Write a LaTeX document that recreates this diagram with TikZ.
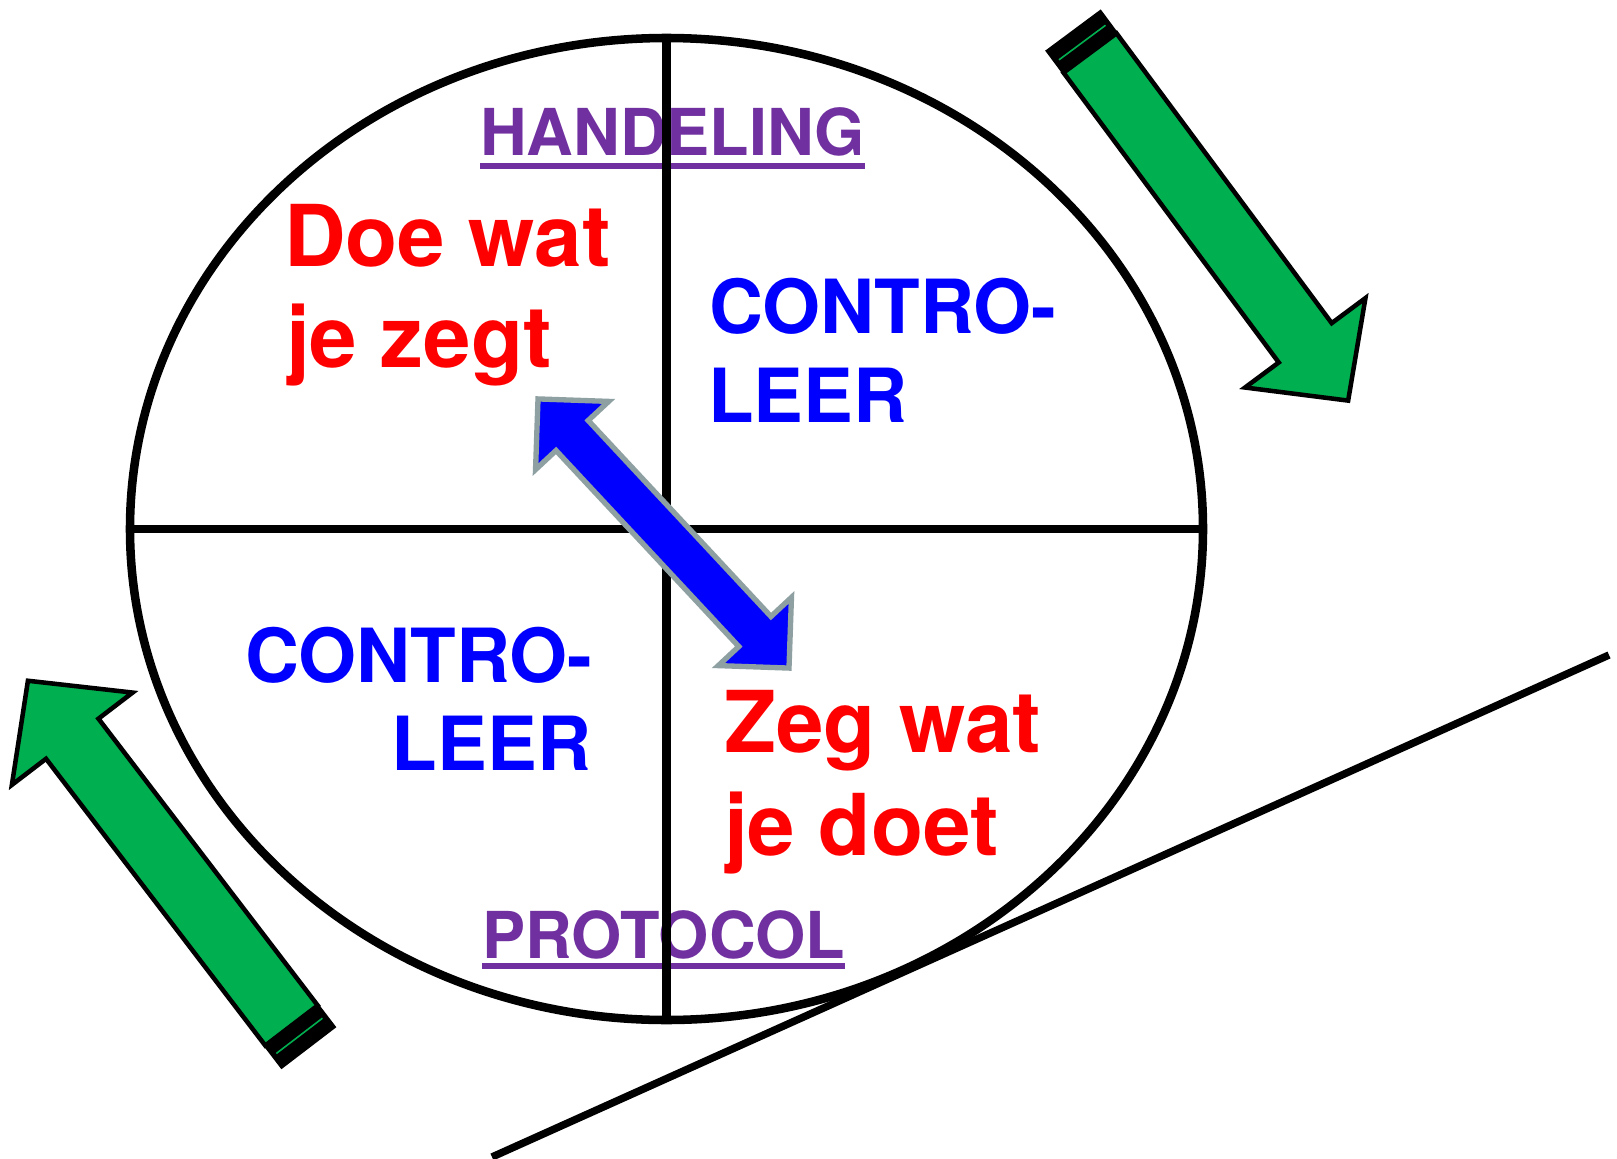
\documentclass[tikz,border=0pt]{standalone}
\usepackage{fontspec}
\setmainfont{TeX Gyre Heros}
\usetikzlibrary{shapes.geometric}
\definecolor{arrgreen}{RGB}{0,176,80}
\definecolor{ttpurple}{RGB}{112,48,160}
\definecolor{arrgray}{RGB}{143,160,162}
\begin{document}
\begin{tikzpicture}[x=0.75pt,y=-0.75pt,
  lbl/.style={inner sep=0pt, outer sep=0pt},
  rtxt/.style={lbl, text=red, font=\bfseries\fontsize{64pt}{76pt}\selectfont},
  btxt/.style={lbl, text=blue, font=\bfseries\fontsize{56pt}{67pt}\selectfont},
  ptxt/.style={lbl, text=ttpurple, font=\bfseries\fontsize{48.5pt}{58pt}\selectfont},
  uline/.style={draw=ttpurple, line width=4.5pt},
  heavy/.style={draw=black, line width=6.4pt},
  garrowbody/.style={fill=arrgreen, draw=black, line width=3.4pt, line join=miter},
  garrowtail/.style={fill=black, draw=black, line width=2.4pt},
  gstripe/.style={draw=arrgreen, line width=1.2pt},
  barrow/.style={fill=blue, draw=arrgray, line width=4pt, line join=miter}
]
\useasboundingbox (0,0) rectangle (1617,1159);
\fill[white] (0,0) rectangle (1617,1159);

% texts
\node[ptxt, anchor=base west] (hand) at (480,156) {HANDELING};
\node[ptxt, anchor=base west] (prot) at (482,958) {PROTOCOL};
\draw[uline] ([yshift=-7.5pt]hand.base west) -- ([yshift=-7.5pt]hand.base east);
\draw[uline] ([yshift=-6pt]prot.base west) -- ([yshift=-6pt]prot.base east);

\node[rtxt, anchor=base west] (doe1) at (284,266) {Doe wat};
\node[rtxt, anchor=base west] (doe2) at (286,367) {je zegt};
\node[btxt, anchor=base west] (cr1) at (709,333) {CONTRO-};
\node[btxt, anchor=base west] (cr2) at (708,422) {LEER};
\node[btxt, anchor=base west] (cl1) at (245,682) {CONTRO-};
\node[btxt, anchor=base east] (cl2) at (591,770) {LEER};
\node[rtxt, anchor=base west] (zeg1) at (724,752) {Zeg wat};
\node[rtxt, anchor=base west] (zeg2) at (724,855) {je doet};

% oval and cross
\node[ellipse, heavy, minimum width=804.75pt, minimum height=736.5pt,
      inner sep=0pt, outer sep=0pt] (oval) at (666.5,529) {};
\draw[heavy] (oval.north) -- (oval.south);
\draw[heavy] (oval.west) -- (oval.east);

% tangent line
\coordinate (d1) at (492,1157);
\coordinate (d2) at (1609,655);
\draw[draw=black, line width=5.6pt] (d1) -- (d2);

% green arrow top right
\begin{scope}[shift={(1090,53)}, rotate=-53.4]
  \filldraw[garrowtail] (-27,-33) rectangle (0,33);
  \draw[gstripe] (-13,-29) -- (-13,29);
  \filldraw[garrowbody] (0,-33) -- (361,-33) -- (361,-75) -- (433,0) -- (361,75) -- (361,33) -- (0,33) -- cycle;
\end{scope}

% green arrow bottom left
\begin{scope}[shift={(291.5,1025.5)}, rotate=127.4]
  \filldraw[garrowtail] (-27,-33) rectangle (0,33);
  \draw[gstripe] (-13,-29) -- (-13,29);
  \filldraw[garrowbody] (0,-33) -- (361,-33) -- (361,-76) -- (434,0) -- (361,76) -- (361,33) -- (0,33) -- cycle;
\end{scope}

% blue double arrow
\begin{scope}[shift={(663.5,533.5)}, rotate=-47]
  \filldraw[barrow] (-184,0) -- (-134,50) -- (-134,22) -- (134,22) -- (134,50) -- (184,0)
     -- (134,-50) -- (134,-22) -- (-134,-22) -- (-134,-50) -- cycle;
\end{scope}
\end{tikzpicture}
\end{document}
